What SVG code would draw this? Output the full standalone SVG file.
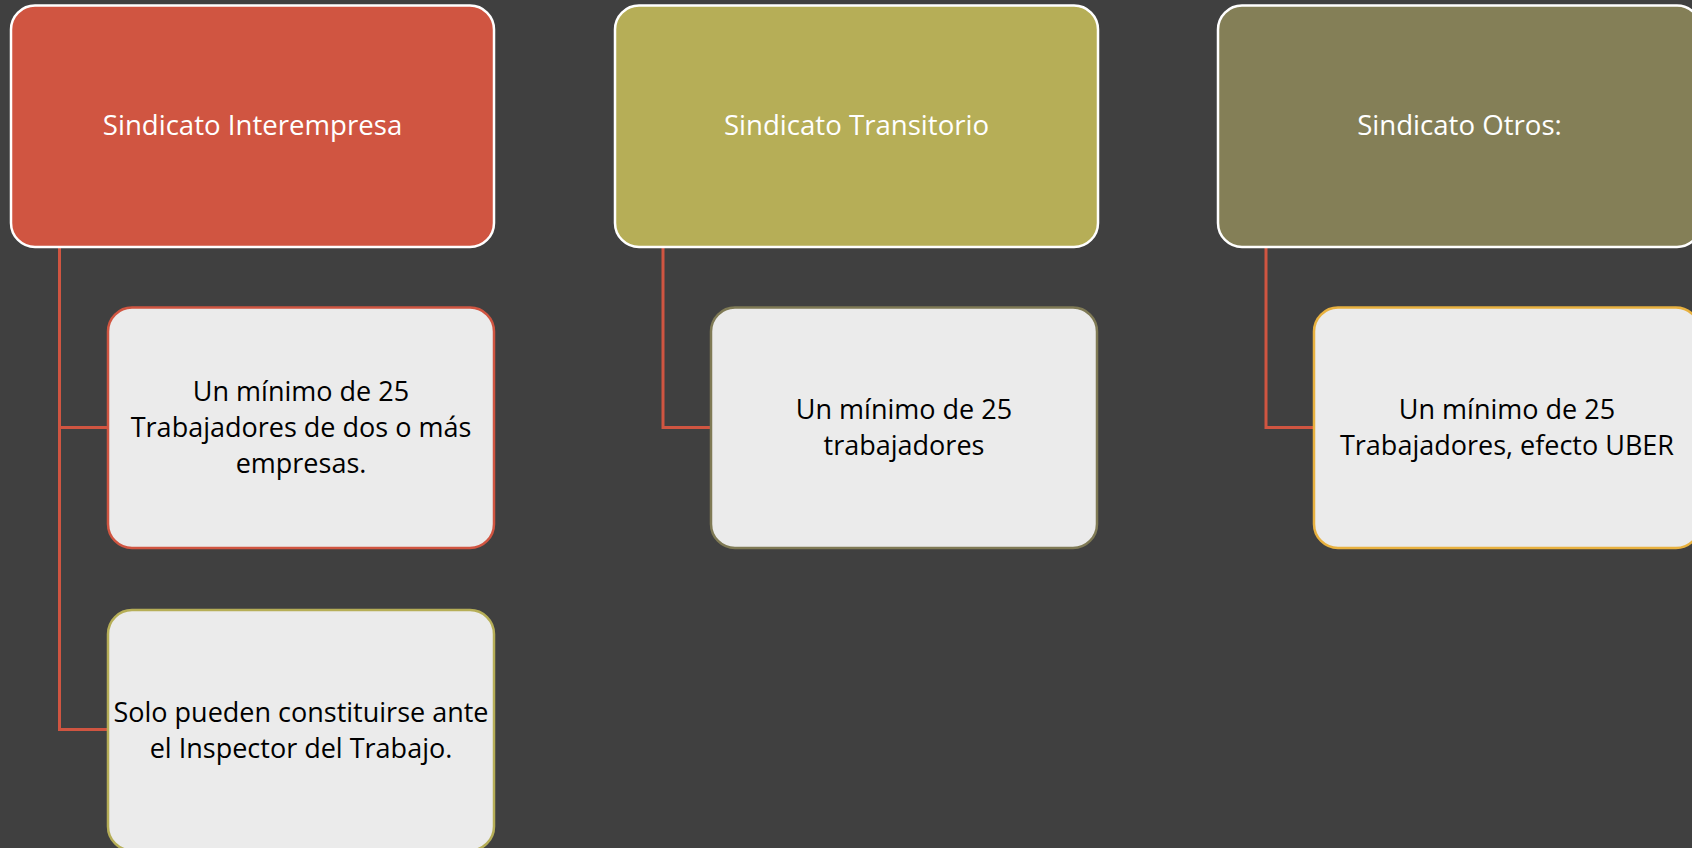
<svg xmlns="http://www.w3.org/2000/svg" width="1692" height="848" viewBox="0 0 1692 848">
<style>
.bg{fill:#404040}
.top{stroke:#FFFFFF;stroke-width:2.5}
.child{fill:#EBEBEB;stroke-width:2.5}
.conn{fill:none;stroke:#D05541;stroke-width:3}
.tt{font-family:"Open Sans",Lato,"Liberation Sans",sans-serif;font-size:27.6px;fill:#FFFFFF;text-anchor:middle}
.ct{font-family:"Open Sans",Lato,"Liberation Sans",sans-serif;font-size:27px;fill:#000000;text-anchor:middle}
</style>
<rect class="bg" x="0" y="0" width="1692" height="848"/>
<g id="connectors">
<path class="conn" d="M59.5 247 V729.5 H108 M59.5 427.5 H108"/>
<path class="conn" d="M663 247 V427.5 H711"/>
<path class="conn" d="M1266 247 V427.5 H1314"/>
</g>
<g id="node-interempresa">
<rect class="top" x="11" y="5.5" width="483" height="241.5" rx="24" fill="#D05541"/>
<text class="tt" x="252.5" y="135">Sindicato Interempresa</text>
</g>
<g id="node-transitorio">
<rect class="top" x="615" y="5.5" width="483" height="241.5" rx="24" fill="#B6AE57"/>
<text class="tt" x="856.5" y="135">Sindicato Transitorio</text>
</g>
<g id="node-otros">
<rect class="top" x="1218" y="5.5" width="483" height="241.5" rx="24" fill="#847F57"/>
<text class="tt" x="1459.5" y="135">Sindicato Otros:</text>
</g>
<g id="node-inter-1">
<rect class="child" x="108" y="307.5" width="386" height="240.5" rx="24" stroke="#D05541"/>
<text class="ct" x="301" y="401">Un mínimo de 25</text>
<text class="ct" x="301" y="437">Trabajadores de dos o más</text>
<text class="ct" x="301" y="473">empresas.</text>
</g>
<g id="node-inter-2">
<rect class="child" x="108" y="610" width="386" height="240.5" rx="24" stroke="#B6AE57"/>
<text class="ct" x="301" y="722">Solo pueden constituirse ante</text>
<text class="ct" x="301" y="758">el Inspector del Trabajo.</text>
</g>
<g id="node-transitorio-1">
<rect class="child" x="711" y="307.5" width="386" height="240.5" rx="24" stroke="#7F7A55"/>
<text class="ct" x="904" y="419">Un mínimo de 25</text>
<text class="ct" x="904" y="455">trabajadores</text>
</g>
<g id="node-otros-1">
<rect class="child" x="1314" y="307.5" width="386" height="240.5" rx="24" stroke="#E8B13F"/>
<text class="ct" x="1507" y="419">Un mínimo de 25</text>
<text class="ct" x="1507" y="455">Trabajadores, efecto UBER</text>
</g>
</svg>
